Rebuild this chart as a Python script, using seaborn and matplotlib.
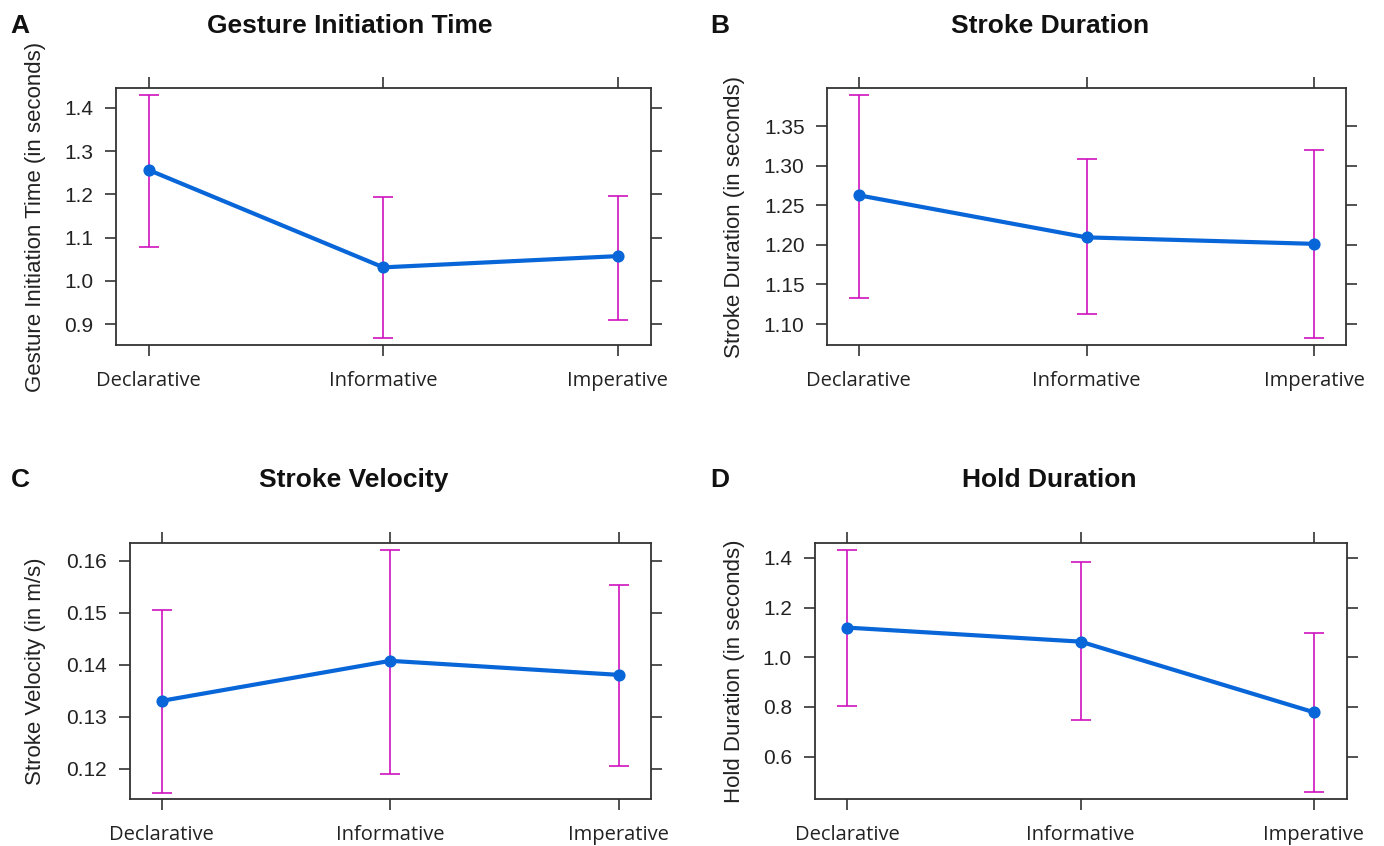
import numpy as np
import pandas as pd
import matplotlib
matplotlib.use("Agg")
import matplotlib.pyplot as plt
import seaborn as sns
from matplotlib import font_manager

sns.set_theme(style="white")
names = {f.name for f in font_manager.fontManager.ttflist}
xfont = "Open Sans" if "Open Sans" in names else "Liberation Sans"
plt.rcParams['font.family'] = ['Liberation Sans', 'DejaVu Sans']

categories = ["Declarative", "Informative", "Imperative"]

git_fit = [1.256, 1.031, 1.057]
git_lower = [1.077, 0.868, 0.909]
git_upper = [1.429, 1.1935, 1.1966]

sd_fit = [1.2625, 1.2094, 1.2012]
sd_lower = [1.1333, 1.1126, 1.0827]
sd_upper = [1.3887, 1.308, 1.320]

sv_fit = [0.1331, 0.1408, 0.1381]
sv_lower = [0.11545, 0.1190, 0.1206]
sv_upper = [0.1506, 0.1621, 0.1554]

hd_fit = [1.1195, 1.063, 0.7785]
hd_lower = [0.804, 0.7477, 0.4564]
hd_upper = [1.4336, 1.3826, 1.0966]

titles = ["Gesture Initiation Time", "Stroke Duration", "Stroke Velocity", "Hold Duration"]
letters = ["A", "B", "C", "D"]
ylabels = ["Gesture Initiation Time (in seconds)", "Stroke Duration (in seconds)",
           "Stroke Velocity (in m/s)", "Hold Duration (in seconds)"]
yticks_list = [[0.9, 1.0, 1.1, 1.2, 1.3, 1.4],
               [1.10, 1.15, 1.20, 1.25, 1.30, 1.35],
               [0.12, 0.13, 0.14, 0.15, 0.16],
               [0.6, 0.8, 1.0, 1.2, 1.4]]
yfmt = ["{:.1f}", "{:.2f}", "{:.2f}", "{:.1f}"]
ylims = [(0.8515, 1.445), (1.0735, 1.3976), (0.11417, 0.1634), (0.428, 1.459)]

series = [(git_fit, git_lower, git_upper), (sd_fit, sd_lower, sd_upper),
          (sv_fit, sv_lower, sv_upper), (hd_fit, hd_lower, hd_upper)]

W, H = 1384, 846
fig = plt.figure(figsize=(W / 100, H / 100), dpi=100)

# axes boxes in pixels: left, right, top, bottom
boxes = [(116.0, 650.7, 88.3, 345.0), (827.0, 1346.0, 88.3, 345.0),
         (129.7, 650.7, 543.3, 799.3), (814.5, 1346.6, 543.3, 799.3)]
title_pos = [(350, 26), (1050, 26), (354, 480), (1049, 480)]
letter_pos = [(20, 26), (720, 26), (20, 480), (720, 480)]
ylabel_x = [36, 734.5, 36, 734.5]

BLUE = "#0866d8"
MAGENTA = "#cf12bf"

for i in range(4):
    l, r, t, b = boxes[i]
    ax = fig.add_axes([l / W, 1 - b / H, (r - l) / W, (b - t) / H])
    fit, lo, hi = series[i]
    df = pd.DataFrame({"type": categories, "fit": fit, "lower": lo, "upper": hi})
    yerr = np.array([df["fit"] - df["lower"], df["upper"] - df["fit"]])
    sns.pointplot(data=df, x="type", y="fit", order=categories, color=BLUE,
                  errorbar=None, markers="o", markersize=6.5, linewidth=3.0, ax=ax, zorder=3)
    ax.errorbar(np.arange(len(categories)), df["fit"], yerr=yerr, fmt="none",
                ecolor=MAGENTA, elinewidth=1.2, capsize=7.5, capthick=1.2, zorder=2)
    ax.set_xlim(-0.14, 2.14)
    ax.set_ylim(*ylims[i])
    ax.set_yticks(yticks_list[i])
    ax.set_yticklabels([yfmt[i].format(v) for v in yticks_list[i]], fontsize=15)
    ax.set_xticks(range(3))
    ax.set_xticklabels(categories, fontfamily=xfont, fontsize=14.5)
    ax.set_xlabel("")
    ax.set_ylabel(ylabels[i], fontsize=16, color="#222222")
    ax.yaxis.label.set_va("center")
    lx = (ylabel_x[i] - l) / (r - l)
    ax.yaxis.set_label_coords(lx, 0.5)
    ax.tick_params(axis="both", which="both", direction="out", length=7.7, width=1.2,
                   color="#333333", labelcolor="#222222",
                   left=True, right=True, top=True, bottom=True,
                   labelleft=True, labelright=False, labeltop=False, labelbottom=True)
    ax.tick_params(axis="y", pad=8.5)
    ax.tick_params(axis="x", pad=11)
    for sp in ax.spines.values():
        sp.set_color("#333333")
        sp.set_linewidth(1.3)
        sp.set_visible(True)
    ax.grid(False)
    fig.text(title_pos[i][0] / W, 1 - title_pos[i][1] / H, titles[i], ha="center", va="center",
             fontsize=19, fontweight="bold", color="#111111")
    fig.text(letter_pos[i][0] / W, 1 - letter_pos[i][1] / H, letters[i], ha="center", va="center",
             fontsize=19, fontweight="bold", color="#111111")

fig.savefig("out.png", dpi=100, facecolor="white")
